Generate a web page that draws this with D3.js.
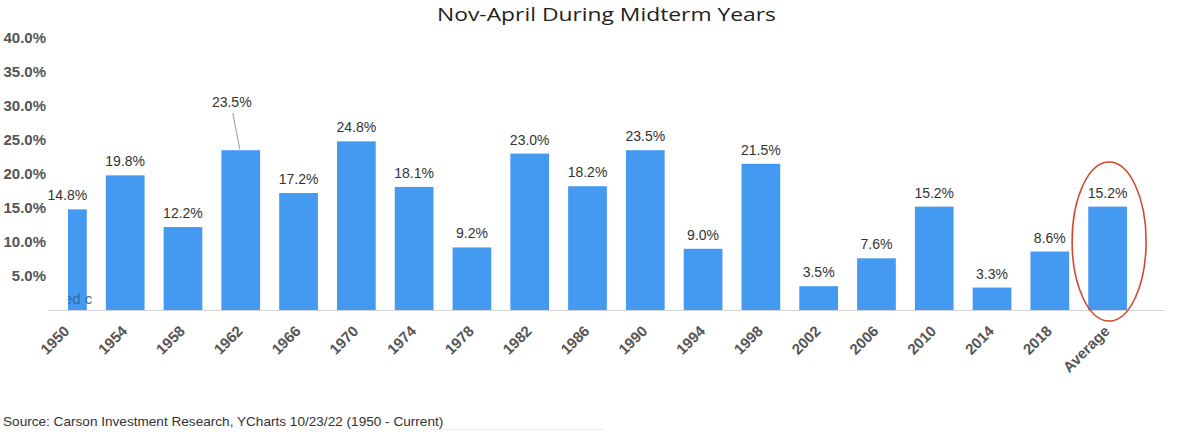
<!DOCTYPE html>
<html><head><meta charset="utf-8">
<script src="https://cdn.jsdelivr.net/npm/d3@7"></script>
<style>html,body{margin:0;padding:0;background:#fff;}</style>
</head><body>
<svg id="c" width="1200" height="432"></svg>
<script>
const categories = ["1950","1954","1958","1962","1966","1970","1974","1978","1982","1986","1990","1994","1998","2002","2006","2010","2014","2018","Average"];
const values = [14.8,19.8,12.2,23.5,17.2,24.8,18.1,9.2,23.0,18.2,23.5,9.0,21.5,3.5,7.6,15.2,3.3,8.6,15.2];
const yTicks = [5,10,15,20,25,30,35,40];
const titleText = "Nov-April During Midterm Years";
const sourceText = "Source: Carson Investment Research, YCharts 10/23/22 (1950 - Current)";

const svg = d3.select("#c");
const x = d3.scaleBand().domain(categories).range([38.5, 1136.5]).paddingInner(0.33).paddingOuter(0.165);
const y = d3.scaleLinear().domain([0, 40]).range([310, 38]);
const FONT = "'Liberation Sans', Arial, sans-serif";

svg.append("text").attr("x", 606.5).attr("y", 20.5).attr("text-anchor", "middle")
  .attr("font-family", "'Open Sans', Lato, sans-serif").attr("font-weight", 400)
  .attr("font-size", 19).attr("fill", "#222")
  .attr("textLength", 339).attr("lengthAdjust", "spacingAndGlyphs").text(titleText);

// y axis labels
const yAxis = d3.axisLeft(y).tickValues(yTicks).tickSize(0).tickPadding(0).tickFormat(d => d.toFixed(1) + "%");
const yg = svg.append("g").attr("transform", "translate(46,0)").call(yAxis);
yg.select(".domain").remove();
yg.selectAll("text").attr("font-family", FONT)
  .attr("font-weight", "bold").attr("font-size", 15).attr("fill", "#555");

// bars clipped at left
svg.append("clipPath").attr("id", "clip").append("rect").attr("x", 68).attr("y", 0).attr("width", 1132).attr("height", 432);
const bars = svg.append("g").attr("clip-path", "url(#clip)");
bars.selectAll("rect").data(categories).join("rect")
  .attr("x", d => x(d)).attr("width", x.bandwidth())
  .attr("y", (d, i) => y(values[i])).attr("height", (d, i) => y(0) - y(values[i]))
  .attr("fill", "#4499f0");
bars.append("text").attr("x", 64).attr("y", 304).attr("font-family", FONT)
  .attr("font-size", 15).attr("fill", "#3468ad").text("ed c");

// baseline
svg.append("line").attr("x1", 48).attr("x2", 1165).attr("y1", 310.5).attr("y2", 310.5)
  .attr("stroke", "#d4d4d4").attr("stroke-width", 1);

// value labels
const cx = d => x(d) + x.bandwidth() / 2;
svg.append("g").selectAll("text").data(categories).join("text")
  .attr("x", (d, i) => cx(d) + (i === 3 ? -9 : 0))
  .attr("y", (d, i) => i === 3 ? 107 : y(values[i]) - 9)
  .attr("text-anchor", "middle").attr("font-family", FONT)
  .attr("font-size", 14).attr("fill", "#333")
  .text((d, i) => values[i].toFixed(1) + "%");
// leader line for 1962
svg.append("line").attr("x1", cx("1962") - 8).attr("y1", 113).attr("x2", cx("1962") - 1).attr("y2", y(values[3]) - 1)
  .attr("stroke", "#999").attr("stroke-width", 1);

// x axis labels
const xAxis = d3.axisBottom(x).tickSize(0).tickPadding(0);
const xg = svg.append("g").call(xAxis);
xg.select(".domain").remove();
xg.selectAll(".tick").attr("transform", d => `translate(${cx(d) + 3},332)`);
xg.selectAll("text").attr("transform", "rotate(-45)").attr("text-anchor", "end")
  .attr("x", 0).attr("y", 0).attr("dy", 0)
  .attr("font-family", FONT).attr("font-weight", "bold").attr("font-size", 15)
  .attr("fill", "#555");

// highlight ellipse
svg.append("ellipse").attr("cx", cx("Average") + 1.5).attr("cy", 241.5).attr("rx", 37).attr("ry", 79.5)
  .attr("fill", "none").attr("stroke", "#d04a32").attr("stroke-width", 1.6);

// source
svg.append("text").attr("x", 3).attr("y", 426).attr("font-family", FONT)
  .attr("font-size", 13.6).attr("fill", "#333").text(sourceText);
svg.append("line").attr("x1", 430).attr("x2", 603).attr("y1", 429.5).attr("y2", 429.5)
  .attr("stroke", "#ececec").attr("stroke-width", 1);
</script>
</body></html>
